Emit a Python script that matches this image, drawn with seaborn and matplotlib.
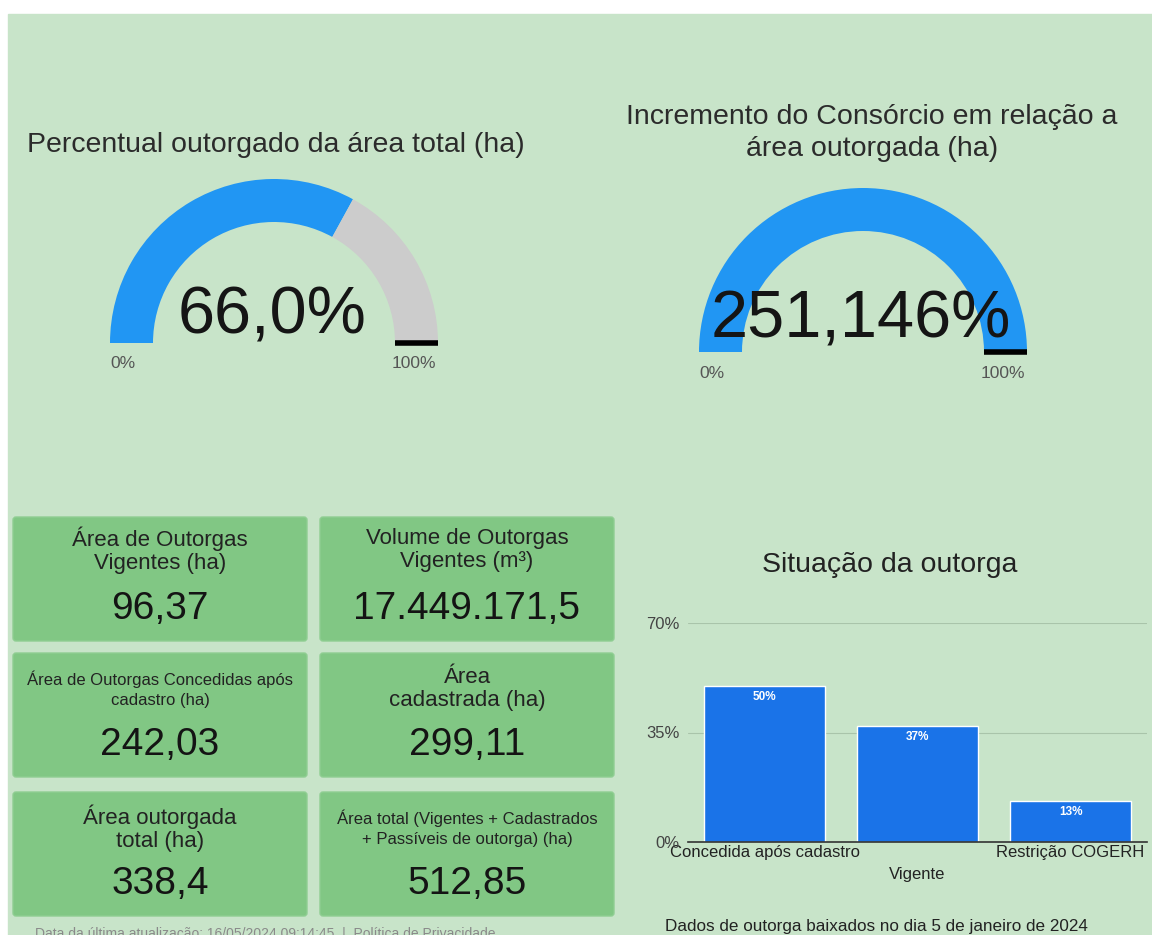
import numpy as np
import matplotlib
matplotlib.use("Agg")
import matplotlib.pyplot as plt
import seaborn as sns
from matplotlib.patches import Rectangle, Wedge, FancyBboxPatch

# ----- data -----
gauge_titles = ["Percentual outorgado da área total (ha)",
                "Incremento do Consórcio em relação a\nárea outorgada (ha)"]
gauge_values = [66.0, 251.146]
gauge_labels = ["66,0%", "251,146%"]

card_titles = ["Área de Outorgas\nVigentes (ha)",
               "Volume de Outorgas\nVigentes (m³)",
               "Área de Outorgas Concedidas após\ncadastro (ha)",
               "Área\ncadastrada (ha)",
               "Área outorgada\ntotal (ha)",
               "Área total (Vigentes + Cadastrados\n+ Passíveis de outorga) (ha)"]
card_values = ["96,37", "17.449.171,5", "242,03", "299,11", "338,4", "512,85"]

bar_categories = ["Concedida após cadastro", "Vigente", "Restrição COGERH"]
bar_values = [50, 37, 13]
bar_ticks = [0, 35, 70]

W, H = 1152, 935
BG = "#C8E4C9"
CARD = "#81C784"
BLUE_G = "#2196F3"
BLUE_B = "#1A73E8"

sns.set_theme(style="white")
plt.rcParams["font.family"] = ["Liberation Sans", "DejaVu Sans"]

fig = plt.figure(figsize=(W / 100, H / 100), dpi=100, facecolor="white")
ax0 = fig.add_axes([0, 0, 1, 1])
ax0.set_xlim(0, W)
ax0.set_ylim(0, H)
ax0.axis("off")


def fy(y):
    return H - y


ax0.add_patch(Rectangle((8, 0), W - 8, H - 14, color=BG, zorder=0))

# ----- gauges -----
gauges = [
    dict(cx=274, cy=343, title_x=276, title_y=145, val_y=316, lab_y=363),
    dict(cx=863, cy=352, title_x=872, title_y=133, val_y=320, lab_y=373),
]
r_out, r_in = 164, 121
for g, title, val, lab in zip(gauges, gauge_titles, gauge_values, gauge_labels):
    cx, cy = g["cx"], fy(g["cy"])
    frac = min(val / 100, 1.0)
    split = 180 - frac * 180
    ax0.add_patch(Wedge((cx, cy), r_out, split, 180, width=r_out - r_in,
                        color=BLUE_G, lw=0, zorder=2))
    if split > 0:
        ax0.add_patch(Wedge((cx, cy), r_out, 0, split, width=r_out - r_in,
                            color="#CCCCCC", lw=0, zorder=2))
    ax0.plot([cx + r_in, cx + r_out], [cy, cy], color="black", lw=4,
             solid_capstyle="butt", zorder=3)
    ax0.text(g["title_x"], fy(g["title_y"]), title, ha="center", va="center",
             fontsize=20.5, color="#2b2b2b", linespacing=1.35)
    ax0.text(cx - 2, fy(g["val_y"]), lab, ha="center", va="center",
             fontsize=48, color="#151515", zorder=4)
    ax0.text(cx - r_out, fy(g["lab_y"]), "0%", ha="left",
             va="center", fontsize=12.5, color="#555555")
    ax0.text(cx + r_out - 2, fy(g["lab_y"]), "100%", ha="right",
             va="center", fontsize=12.5, color="#555555")

# ----- KPI cards -----
col_x = [13, 320]
row_y = [517, 653, 792]
cw, ch = 294, 124
title_off = [33, 36, 36]
for i, (t, v) in enumerate(zip(card_titles, card_values)):
    x0 = col_x[i % 2]
    y0 = row_y[i // 2]
    ax0.add_patch(FancyBboxPatch((x0 + 3, fy(y0 + ch) + 3), cw - 6, ch - 6,
                                 boxstyle="round,pad=3", fc=CARD, ec="#8fce92",
                                 lw=1, zorder=1))
    small = len(t.split("\n")[0]) > 25
    ax0.text(x0 + cw / 2, fy(y0 + title_off[i // 2]), t, ha="center", va="center",
             fontsize=12 if small else 16, color="#222222",
             linespacing=1.45 if small else 1.12)
    ax0.text(x0 + cw / 2, fy(y0 + 92), v, ha="center", va="center",
             fontsize=28, color="#141414")

# ----- footers -----
ax0.text(35, fy(934), "Data da última atualização: 16/05/2024 09:14:45  |  Política de Privacidade",
         ha="left", va="center", fontsize=10, color="#8a8a8a")
ax0.text(876, fy(926), "Dados de outorga baixados no dia 5 de janeiro de 2024",
         ha="center", va="center", fontsize=12.3, color="#222222")

# ----- bar chart -----
ax0.text(890, fy(565), "Situação da outorga", ha="center", va="center",
         fontsize=20.5, color="#222222")

axb = fig.add_axes([688 / W, (H - 842) / H, (1147 - 688) / W, (842 - 623) / H])
axb.set_facecolor("none")
sns.barplot(x=bar_categories, y=bar_values, color=BLUE_B, width=0.79,
            saturation=1, ax=axb, zorder=3)
axb.set_xlim(-0.5, 2.5)
axb.set_ylim(0, 70)
axb.set_yticks(bar_ticks)
axb.set_yticklabels([f"{t}%" for t in bar_ticks], fontsize=12, color="#444444")
axb.grid(axis="y", color="#a9c4aa", lw=0.8, zorder=0)
axb.set_axisbelow(True)
for s in ["top", "right", "left"]:
    axb.spines[s].set_visible(False)
axb.spines["bottom"].set_color("#333333")
axb.spines["bottom"].set_linewidth(1.2)
axb.spines["bottom"].set_zorder(5)
axb.tick_params(axis="y", length=0, pad=6)
axb.tick_params(axis="x", length=0, pad=2)
axb.set_xticks(range(len(bar_categories)))
axb.set_xticklabels([c if i % 2 == 0 else "\n" + c for i, c in enumerate(bar_categories)],
                    fontsize=12, color="#222222", linespacing=1.6)
for p, v in zip(axb.patches, bar_values):
    axb.text(p.get_x() + p.get_width() / 2, p.get_height() - 3.5, f"{v}%",
             ha="center", va="center", fontsize=8.5, color="white",
             fontweight="bold", zorder=6)

fig.savefig("out.png", dpi=100, facecolor="white")
